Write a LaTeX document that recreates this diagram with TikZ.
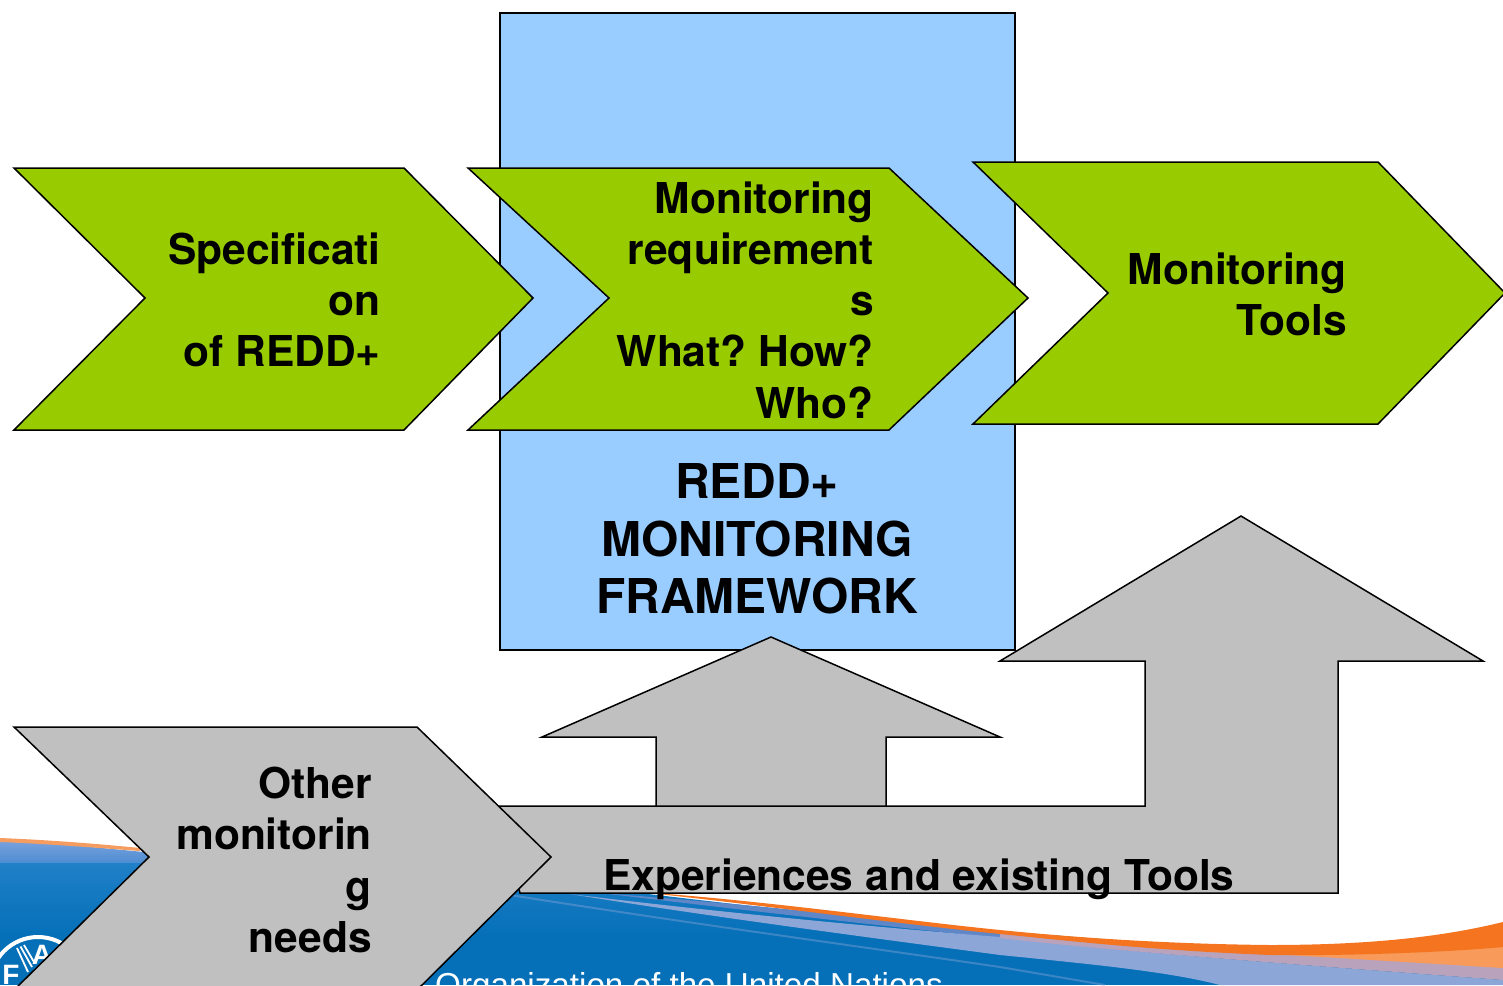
\documentclass[tikz,border=0pt]{standalone}
\usepackage{fontspec}
\setmainfont{TeX Gyre Heros}
\newfontfamily\footfont{Liberation Sans}
\frenchspacing
\definecolor{chevgreen}{HTML}{99CC00}
\definecolor{panelblue}{HTML}{99CCFF}
\definecolor{shapegray}{HTML}{C0C0C0}
\definecolor{footblue}{HTML}{0570B8}
\definecolor{footmid}{HTML}{2080C8}
\definecolor{footlight}{HTML}{7FA3DE}
\definecolor{footlow}{HTML}{4F8ED2}
\definecolor{footorange}{HTML}{F4741F}
\definecolor{footsoft}{HTML}{F59C60}
\definecolor{footperi}{HTML}{8CA6D8}
\definecolor{footdark}{HTML}{5F87C8}
\definecolor{footmauve}{HTML}{B9A3BC}
\definecolor{footpeach}{HTML}{F79A5A}
\tikzset{
  shapeline/.style={draw=black,line width=1.5pt,line join=miter},
  greenshape/.style={shapeline,fill=chevgreen},
  grayshape/.style={shapeline,fill=shapegray},
  bluepanel/.style={shapeline,fill=panelblue},
  chevtext/.style={font=\fontsize{42.5}{51.2}\selectfont\bfseries,align=right,inner sep=0pt,text=black},
  paneltext/.style={font=\fontsize{48}{57.5}\selectfont\bfseries,align=center,inner sep=0pt,text=black},
  foottext/.style={font=\footfont\fontsize{33.2}{36}\selectfont,inner sep=0pt,text=white},
  logotext/.style={font=\footfont\fontsize{28}{32}\selectfont\bfseries,inner sep=0pt,text=white},
}
\begin{document}
\begin{tikzpicture}[x=1pt,y=-1pt]
\useasboundingbox (0,0) rectangle (1503,985);
\begin{scope}
\clip (0,0) rectangle (1503,985);
% footer: blue ground under the swoosh
\begin{scope}
\clip (0,840) .. controls (140,848) and (400,882) .. (570,892)
  -- (640,893) .. controls (800,912) and (1000,935) .. (1270,950)
  -- (1503,940) -- (1503,985) -- (0,985) -- cycle;
\shade[top color=footmid,bottom color=footblue] (0,862) rectangle (1503,935);
\fill[footblue] (0,935) rectangle (1503,985);
\shade[top color=footlight,bottom color=footlow] (0,838) rectangle (320,862);
\end{scope}
\draw[footperi,opacity=.4,line width=2pt] (510,895) .. controls (700,925) and (850,945) .. (1000,967) -- (1105,985);
\fill[footdark] (600,893) .. controls (760,905) and (900,920) .. (1000,933)
  -- (1000,938) .. controls (900,928) and (760,912) .. (600,893) -- cycle;
\fill[footperi] (570,894) .. controls (700,910) and (850,925) .. (1000,937)
  .. controls (1100,950) and (1300,965) .. (1503,980) -- (1503,985) -- (1220,985)
  .. controls (1170,972) and (1100,965) .. (1000,955)
  .. controls (850,935) and (700,915) .. (570,894) -- cycle;
\fill[footmauve] (1000,933) .. controls (1100,945) and (1200,952) .. (1300,955)
  -- (1503,966) -- (1503,980) .. controls (1300,965) and (1100,950) .. (1000,938) -- cycle;
\fill[footpeach] (1270,954) .. controls (1350,955) and (1450,950) .. (1503,945)
  -- (1503,968) .. controls (1420,963) and (1340,958) .. (1270,954) -- cycle;
\fill[footsoft] (0,838) .. controls (50,840) and (100,844) .. (140,848) -- (140,851)
  .. controls (100,848) and (50,844) .. (0,842) -- cycle;
\fill[footorange] (640,892) .. controls (760,900) and (900,920) .. (1000,930)
  .. controls (1080,938) and (1170,944) .. (1270,945)
  .. controls (1380,945) and (1450,935) .. (1503,922) -- (1503,947)
  .. controls (1450,952) and (1350,956) .. (1270,955)
  .. controls (1150,950) and (1080,942) .. (1000,934)
  .. controls (900,924) and (760,905) .. (640,892) -- cycle;
% FAO logo
\draw[white,line width=4pt] (38,985) circle (48);
\draw[white,line width=1.8pt] (17,948) -- (28,972) (20.5,946.5) -- (32,967) (24,945) -- (34,962);
\node[logotext] (logoA) at (42,955) {A};
\node[logotext] (logoF) at (11,975) {F};
\node[foottext,anchor=base west] (orgname) at (435,996) {Organization of the United Nations};
\end{scope}
% panel
\path[bluepanel] (500,13) rectangle (1015,650);
% green chevrons
\path[greenshape] (14,168) -- (404,168) -- (533,298) -- (404,430) -- (14,430) -- (145,298) -- cycle;
\path[greenshape] (468,168) -- (889,168) -- (1028,298) -- (889,430) -- (468,430) -- (609,298) -- cycle;
\path[greenshape] (973,162) -- (1378,162) -- (1505,293) -- (1378,424) -- (973,424) -- (1108,293) -- cycle;
\node[paneltext] (framework) at (757,539) {REDD+\\MONITORING\\FRAMEWORK};
\node[chevtext,anchor=east] (spec) at (381,300) {Specificati\\on\\of REDD+};
\node[chevtext,anchor=east] (req) at (874,300) {Monitoring\\requirement\\s\\What? How?\\Who?};
\node[chevtext,anchor=east] (tools) at (1347,294) {Monitoring\\Tools};
% gray arrows
\path[grayshape] (498,806) -- (1145,806) -- (1145,661) -- (1000,661) -- (1241,516) -- (1483,661) -- (1338,661)
  -- (1338,893) -- (520,893) -- cycle;
\path[grayshape] (656,806) -- (656,737) -- (542,737) -- (771,637) -- (1000,737) -- (886,737) -- (886,806) -- cycle;
\path[grayshape] (14,727) -- (417,727) -- (551,857) -- (417,990) -- (14,990) -- (149,857) -- cycle;
\node[chevtext,anchor=east] (other) at (372,860) {Other\\monitorin\\g\\needs};
\node[chevtext,anchor=base west] (exper) at (603,890) {Experiences and existing Tools};
\end{tikzpicture}
\end{document}
